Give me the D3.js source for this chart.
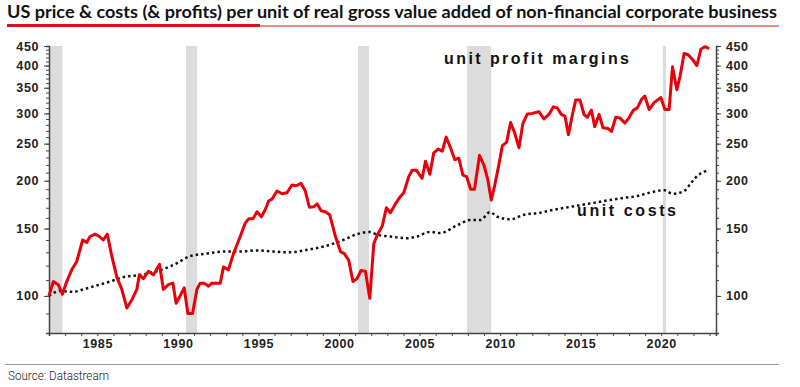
<!DOCTYPE html>
<html>
<head>
<meta charset="utf-8">
<script src="https://cdn.jsdelivr.net/npm/d3@7"></script>
<style>
  html, body { margin: 0; padding: 0; background: #fff; }
  svg { display: block; }
  .axis text { font-family: "Liberation Sans", Arial, sans-serif; font-weight: bold; font-size: 12.5px; fill: #222; letter-spacing: 0.6px; }
  .axis path, .axis line { stroke: #444; }
  .note { font-family: "Liberation Sans", Arial, sans-serif; font-weight: bold; font-size: 16px; fill: #111; }
</style>
</head>
<body>
<svg id="chart" width="800" height="387"></svg>
<script>
// unit profit margins (index, quarterly)
const profitYears = [
  1982.00, 1982.27, 1982.58, 1982.83, 1983.10, 1983.41, 1983.72, 1984.09, 1984.34, 1984.55,
  1984.86, 1985.13, 1985.37, 1985.62, 1985.90, 1986.21, 1986.52, 1986.83, 1987.14, 1987.45,
  1987.61, 1987.86, 1988.17, 1988.48, 1988.86, 1989.10, 1989.41, 1989.69, 1989.89, 1990.14,
  1990.39, 1990.62, 1990.91, 1991.18, 1991.38, 1991.63, 1991.90, 1992.11, 1992.63, 1992.83,
  1993.14, 1993.45, 1993.87, 1994.18, 1994.39, 1994.66, 1994.91, 1995.18, 1995.42, 1995.63,
  1995.84, 1996.15, 1996.46, 1996.77, 1997.08, 1997.35, 1997.64, 1997.91, 1998.16, 1998.43,
  1998.64, 1998.89, 1999.15, 1999.42, 1999.78, 2000.09, 2000.33, 2000.60, 2000.87, 2001.12,
  2001.37, 2001.64, 2001.91, 2002.16, 2002.40, 2002.68, 2002.94, 2003.19, 2003.50, 2003.77,
  2004.02, 2004.33, 2004.54, 2004.81, 2005.16, 2005.37, 2005.64, 2005.88, 2006.16, 2006.41,
  2006.65, 2006.92, 2007.19, 2007.44, 2007.69, 2007.92, 2008.17, 2008.41, 2008.72, 2008.99,
  2009.24, 2009.45, 2009.66, 2009.92, 2010.14, 2010.40, 2010.65, 2010.90, 2011.17, 2011.41,
  2011.69, 2012.00, 2012.41, 2012.72, 2013.03, 2013.31, 2013.55, 2013.80, 2014.03, 2014.24,
  2014.49, 2014.69, 2014.96, 2015.21, 2015.42, 2015.67, 2015.87, 2016.14, 2016.39, 2016.70,
  2016.91, 2017.18, 2017.43, 2017.74, 2018.00, 2018.28, 2018.52, 2018.77, 2018.98, 2019.25,
  2019.56, 2019.98, 2020.23, 2020.49, 2020.70, 2020.97, 2021.17, 2021.42, 2021.67, 2021.94,
  2022.21, 2022.46, 2022.71, 2022.98
];
const profitValues = [
  100, 109, 107, 101, 109, 117, 123, 140, 138, 143,
  145, 143, 140, 145, 127, 112, 104, 93, 97.6, 104,
  113.5, 111, 116, 113.5, 121, 104, 107, 108, 95.7, 100,
  105, 90, 90, 104, 108, 108, 106, 108, 108, 119,
  117, 129, 143, 155, 159, 159, 166, 161, 168, 177,
  179, 188, 185, 186, 195, 194, 197, 188, 170.5, 171,
  174, 167, 166, 163, 143, 130.6, 129, 124, 109, 111,
  116.5, 116, 98.6, 137, 145, 152, 170, 165, 174, 181,
  186, 205, 213, 213, 203, 225, 208, 236.5, 242, 239,
  260, 244, 227, 229, 207, 205, 190, 190, 233, 220,
  201, 178, 194, 220, 247, 252, 284, 267, 244, 282,
  299, 300, 303, 290, 298, 312, 310, 298, 295, 264,
  298, 325, 325, 298, 293, 306, 277, 298, 275, 274,
  269, 293, 292, 283, 292, 306, 310, 326, 333, 307,
  320, 330, 307, 307, 397, 346, 375, 430, 427, 415,
  400, 441, 448, 443
];

// unit costs (index)
const costYears = [
  1982.00, 1982.68, 1983.51, 1984.13, 1984.96, 1985.79, 1986.62, 1987.66, 1988.69, 1989.73,
  1990.76, 1991.80, 1992.83, 1993.87, 1994.91, 1995.94, 1996.98, 1998.02, 1999.05, 2000.09,
  2001.12, 2001.89, 2002.37, 2003.19, 2004.23, 2004.85, 2005.64, 2006.30, 2007.34, 2008.17,
  2008.79, 2009.37, 2009.83, 2010.65, 2011.48, 2012.31, 2013.34, 2014.38, 2015.42, 2016.45,
  2017.49, 2018.53, 2019.36, 2020.18, 2020.70, 2021.42, 2021.84, 2022.25, 2022.88
];
const costValues = [
  100, 103, 102.5, 104, 106.5, 109, 112, 113.5, 116, 120.5,
  127, 129, 130.6, 130.6, 131.5, 130.6, 130, 132, 134.6, 139,
  145, 147, 144.5, 143, 141.5, 143, 147, 146, 153, 158,
  158, 165.6, 161, 158.6, 163, 164.5, 168, 171, 174, 177,
  180, 182.5, 186.5, 189, 185, 188, 197, 206, 213
];

// recessions, shaded
const recessionStarts = [1981.5, 1990.5, 2001.18, 2007.95, 2020.1];
const recessionEnds   = [1982.83, 1991.19, 2001.86, 2009.44, 2020.3];

const yTicks = [100, 150, 200, 250, 300, 350, 400, 450];
const xLabelYears = [1985, 1990, 1995, 2000, 2005, 2010, 2015, 2020];

class MarginsChart {
  constructor(selector) {
    this.svg = d3.select(selector);
    this.init();
    this.render();
  }

  init() {
    this.left = 49;
    this.right = 716;
    this.top = 46;
    this.bottom = 333;

    this.x = d3.scaleLinear().domain([1982, 2023.4]).range([this.left, this.right]);
    this.y = d3.scaleLog().domain([80, 450]).range([this.bottom, this.top]);

    this.profit = profitYears.map((t, i) => ({ t, v: profitValues[i] }));
    this.costs = costYears.map((t, i) => ({ t, v: costValues[i] }));
    this.recessions = recessionStarts.map((s, i) => ({ s: Math.max(s, 1982), e: recessionEnds[i] }));
  }

  render() {
    const { x, y, svg } = this;

    // title + red rule
    svg.append("text")
      .attr("x", 7).attr("y", 17.5)
      .attr("textLength", 770).attr("lengthAdjust", "spacingAndGlyphs")
      .style("font-family", "Lato, 'Open Sans', sans-serif")
      .style("font-weight", 700).style("font-size", "16.5px").style("fill", "#111")
      .text("US price & costs (& profits) per unit of real gross value added of non-financial corporate business");
    svg.append("line").attr("x1", 7).attr("x2", 779).attr("y1", 26).attr("y2", 26)
      .attr("stroke", "#d8121c").attr("stroke-width", 1);
    svg.append("line").attr("x1", 7).attr("x2", 260).attr("y1", 25.5).attr("y2", 25.5)
      .attr("stroke", "#d8121c").attr("stroke-width", 3);

    // recession bands
    svg.append("g").selectAll("rect")
      .data(this.recessions)
      .join("rect")
      .attr("x", d => x(d.s))
      .attr("width", d => x(d.e) - x(d.s))
      .attr("y", this.top)
      .attr("height", this.bottom - this.top)
      .attr("fill", "#dcdcdc");

    // axes
    const minor = d3.range(80, 451, 10);
    svg.append("g").attr("class", "axis")
      .attr("transform", `translate(${this.left},0)`)
      .call(d3.axisLeft(y).tickValues(minor).tickSize(3).tickFormat(""))
      .call(g => g.select(".domain").attr("stroke-width", 1.5));
    svg.append("g").attr("class", "axis")
      .attr("transform", `translate(${this.left},0)`)
      .call(d3.axisLeft(y).tickValues(yTicks).tickSize(5).tickPadding(5).tickFormat(d3.format("d")))
      .call(g => g.select(".domain").remove());

    svg.append("g").attr("class", "axis")
      .attr("transform", `translate(${this.right},0)`)
      .call(d3.axisRight(y).tickValues(minor).tickSize(3).tickFormat(""))
      .call(g => g.select(".domain").attr("stroke-width", 1.5));
    svg.append("g").attr("class", "axis")
      .attr("transform", `translate(${this.right},0)`)
      .call(d3.axisRight(y).tickValues(yTicks).tickSize(5).tickPadding(5).tickFormat(d3.format("d")))
      .call(g => g.select(".domain").remove());

    svg.append("g").attr("class", "axis")
      .attr("transform", `translate(0,${this.bottom})`)
      .call(d3.axisBottom(x).tickValues(d3.range(1982, 2024)).tickSize(3).tickPadding(3)
        .tickFormat(d => xLabelYears.includes(d) ? d : ""))
      .call(g => g.select(".domain").attr("stroke-width", 1.5));

    // lines
    svg.append("path")
      .datum(this.costs)
      .attr("d", d3.line().x(d => x(d.t)).y(d => y(d.v)).curve(d3.curveMonotoneX))
      .attr("fill", "none")
      .attr("stroke", "#111")
      .attr("stroke-width", 2.5)
      .attr("stroke-dasharray", "2.5,3");

    svg.append("path")
      .datum(this.profit)
      .attr("d", d3.line().x(d => x(d.t)).y(d => y(d.v)))
      .attr("fill", "none")
      .attr("stroke", "#e8000b")
      .attr("stroke-width", 3)
      .attr("stroke-linejoin", "round");

    // labels
    svg.append("text").attr("class", "note")
      .attr("x", 444).attr("y", 64)
      .attr("textLength", 185).attr("lengthAdjust", "spacing")
      .text("unit profit margins");
    svg.append("text").attr("class", "note")
      .attr("x", 577).attr("y", 216)
      .attr("textLength", 99).attr("lengthAdjust", "spacing")
      .text("unit costs");

    // footer
    svg.append("line").attr("x1", 5).attr("x2", 779).attr("y1", 364.5).attr("y2", 364.5)
      .attr("stroke", "#9a9a9a").attr("stroke-width", 1);
    svg.append("text")
      .attr("x", 8).attr("y", 380)
      .attr("textLength", 101).attr("lengthAdjust", "spacingAndGlyphs")
      .style("font-family", "Roboto, sans-serif").style("font-weight", 300)
      .style("font-size", "12px").style("fill", "#222")
      .text("Source: Datastream");
  }
}

new MarginsChart("#chart");
</script>
</body>
</html>
